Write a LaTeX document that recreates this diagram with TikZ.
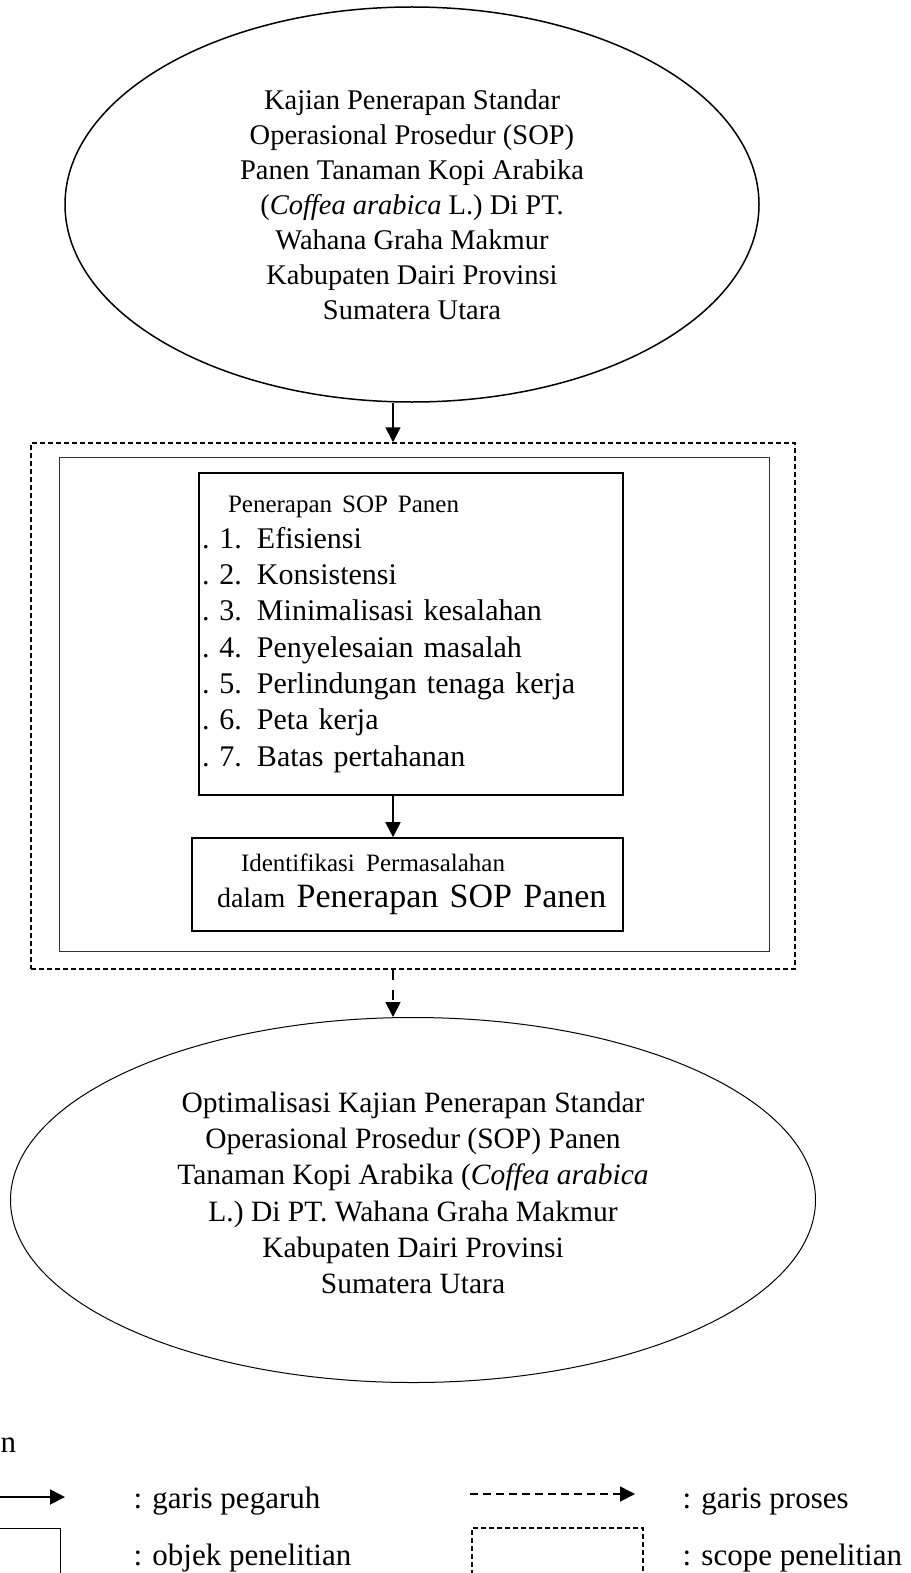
\documentclass[tikz,border=0pt]{standalone}
\usepackage{fontspec}
\setmainfont{Liberation Serif}
\usetikzlibrary{shapes.geometric,arrows.meta}
\tikzset{>={Triangle[length=15pt,width=15pt]}}
\tikzset{
    oval/.style={draw,ellipse,inner sep=0pt,align=center},
    objbox/.style={draw,rectangle,line width=1.6pt,inner sep=0pt},
    scopebox/.style={draw,rectangle,line width=1.5pt,dash pattern=on 5pt off 3pt,inner sep=0pt},
    pengaruh/.style={->,line width=1.8pt},
    proses/.style={->,line width=1.8pt,dash pattern=on 10pt off 10pt},
    legtxt/.style={anchor=base west,font=\fontsize{31}{36}\selectfont},
}

\begin{document}
\begin{tikzpicture}[x=1pt,y=-1pt]
    \useasboundingbox (0,0) rectangle (910,1573);
    \coordinate (axis) at (393,0);
    % judul
    \node[oval,line width=1.5pt,minimum width=694pt,minimum height=395pt,font=\fontsize{28.5}{35}\selectfont] (kajian) at (412,204.5)
        {Kajian Penerapan Standar\\ Operasional Prosedur (SOP)\\ Panen Tanaman Kopi Arabika\\ (\textit{Coffea arabica} L.) Di PT.\\ Wahana Graha Makmur\\ Kabupaten Dairi Provinsi\\ Sumatera Utara};
    % scope dan objek
    \node[scopebox,minimum width=764pt,minimum height=526pt] (scope) at (413,706) {};
    \node[draw=black!80,line width=0.9pt,minimum width=710pt,minimum height=494pt,inner sep=0pt] (objek) at (414,704) {};
    \node[objbox,minimum width=424pt,minimum height=322pt,text width=418pt,inner xsep=3pt,align=left,font=\fontsize{30}{36.3}\selectfont] (sop) at (411,634)
        {\hspace*{26pt}{\fontsize{25}{36}\selectfont Penerapan SOP Panen}\\
        .\hspace{10pt}1. Efisiensi\\
        .\hspace{10pt}2. Konsistensi\\
        .\hspace{10pt}3. Minimalisasi kesalahan\\
        .\hspace{10pt}4. Penyelesaian masalah\\
        .\hspace{10pt}5. Perlindungan tenaga kerja\\
        .\hspace{10pt}6. Peta kerja\\
        .\hspace{10pt}7. Batas pertahanan};
    \node[objbox,minimum width=431pt,minimum height=93pt,text width=425pt,inner xsep=3pt,align=left,font=\fontsize{34}{36}\selectfont] (ident) at (407.5,884.5)
        {\hspace*{46pt}{\fontsize{25}{36}\selectfont Identifikasi Permasalahan}\\
        \hspace*{22pt}{\fontsize{28}{36}\selectfont dalam} Penerapan SOP Panen};
    % hasil
    \node[oval,line width=1pt,minimum width=805pt,minimum height=365pt] (optim) at (413,1200) {};
    \node[align=center,font=\fontsize{29.5}{36.3}\selectfont] (optimtxt) at (413,1193)
        {Optimalisasi Kajian Penerapan Standar\\ Operasional Prosedur (SOP) Panen\\ Tanaman Kopi Arabika (\textit{Coffea arabica}\\ L.) Di PT. Wahana Graha Makmur\\ Kabupaten Dairi Provinsi\\ Sumatera Utara};
    \draw[pengaruh] (kajian.south -| axis) -- (scope.north -| axis);
    \draw[pengaruh] (sop.south -| axis) -- (ident.north -| axis);
    \draw[proses] (scope.south -| axis) -- (optim.north -| axis);
    % keterangan
    \node[legtxt] (ket) at (-3,1452) {n};
    \coordinate (pa) at (-5,1497);
    \coordinate (pb) at (65,1497);
    \draw[pengaruh] (pa) -- (pb);
    \node[legtxt] (pengaruhtxt) at (130,1508) {: garis pegaruh};
    \node[objbox,line width=1.2pt,anchor=north east,minimum width=80pt,minimum height=80pt] (legobj) at (61,1528) {};
    \node[legtxt] (objektxt) at (130,1565) {: objek penelitian};
    \coordinate (qa) at (470,1494);
    \coordinate (qb) at (635,1494);
    \draw[proses,dash pattern=on 8pt off 5pt] (qa) -- (qb);
    \node[legtxt] (prosestxt) at (679,1508) {: garis proses};
    \node[scopebox,anchor=north west,minimum width=171pt,minimum height=80pt] (legscope) at (471,1527) {};
    \node[legtxt] (scopetxt) at (679,1565) {: scope penelitian};
\end{tikzpicture}
\end{document}
